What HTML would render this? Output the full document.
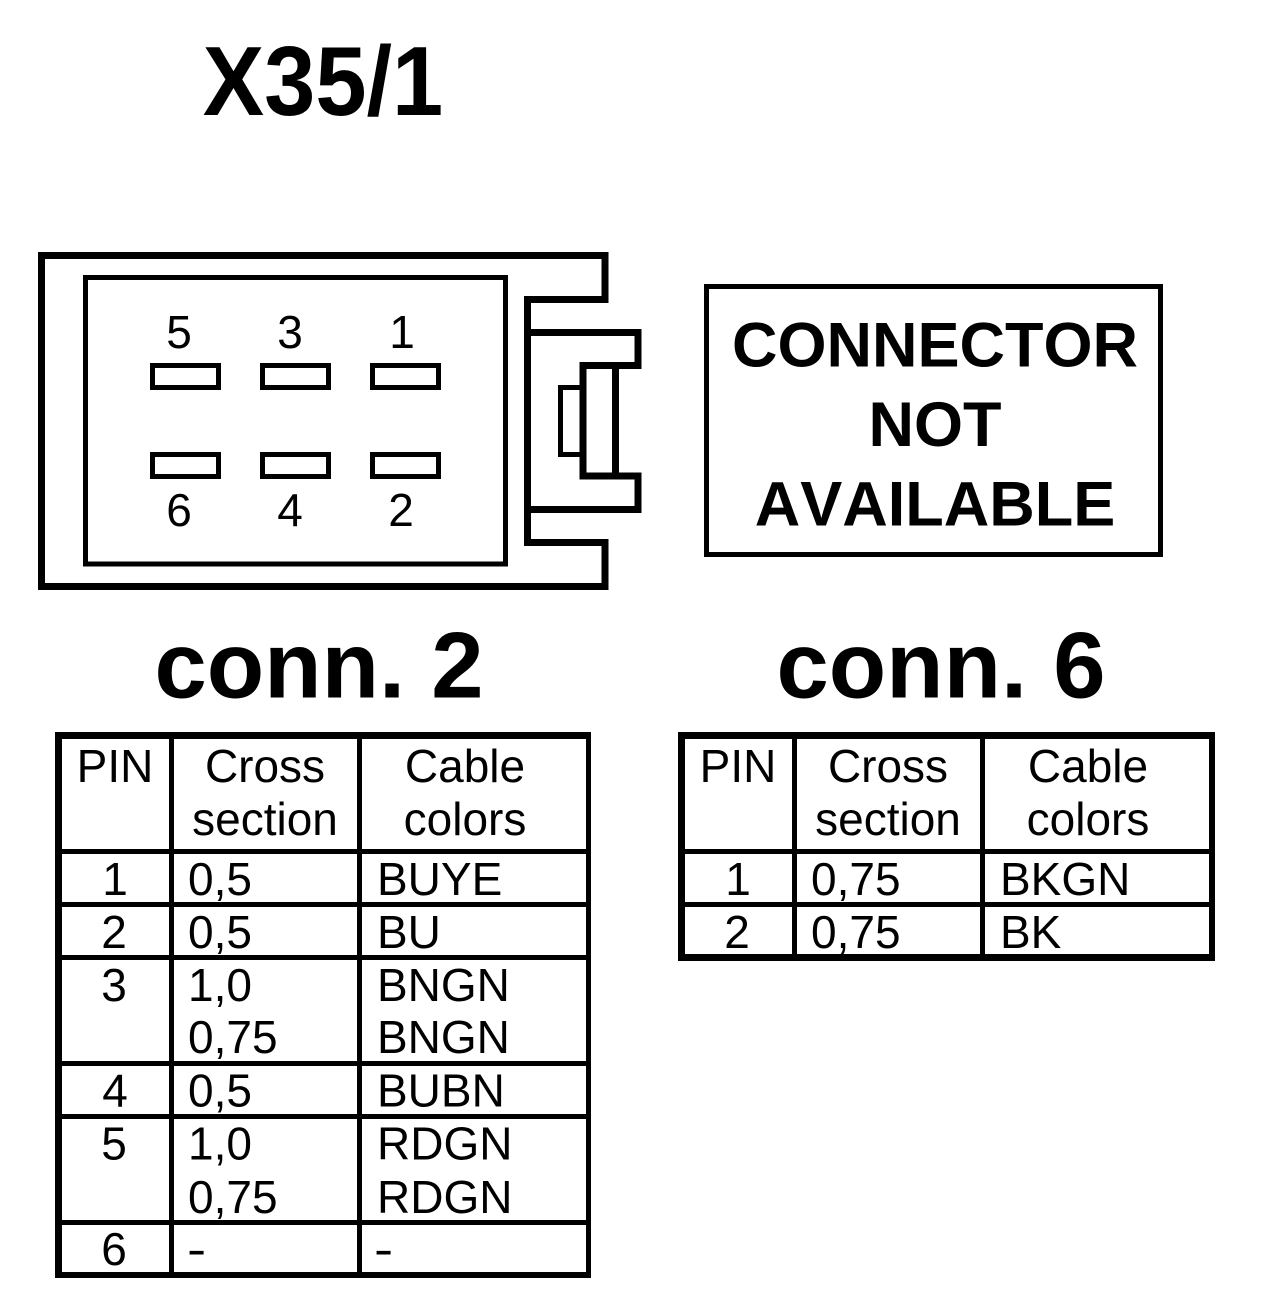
<!DOCTYPE html>
<html><head><meta charset="utf-8"><style>html,body{margin:0;padding:0;background:#fff}svg{display:block}
text{font-family:"Liberation Sans",Arial,sans-serif;fill:#000;font-kerning:none}
.t{font-size:46px}.b{font-weight:bold}.m{text-anchor:middle}</style></head><body>
<svg width="1264" height="1312" viewBox="0 0 1264 1312" xmlns="http://www.w3.org/2000/svg">
<rect width="1264" height="1312" fill="#fff"/>
<text class="b m" transform="translate(323,115) scale(1,1.07)" font-size="92">X35/1</text>
<g fill="none" stroke="#000" shape-rendering="crispEdges">
<path stroke-width="7" d="M41.5 255.5H605V299.5H527.5V542.5H605V586.5H41.5Z"/>
<rect stroke-width="5" x="85.5" y="277.5" width="420" height="286.5"/>
<path stroke-width="7" d="M527.5 332.5H638V365.5H583V476H638V509.5H527.5"/>
<path stroke-width="7" d="M615.5 365.5V476"/>
<path stroke-width="5" d="M583 387.5H560.5V454.5H583"/>
<g stroke-width="5">
<rect x="152.5" y="365.5" width="66" height="22"/><rect x="262.5" y="365.5" width="66" height="22"/><rect x="372.5" y="365.5" width="66" height="22"/>
<rect x="152.5" y="454.5" width="66" height="22"/><rect x="262.5" y="454.5" width="66" height="22"/><rect x="372.5" y="454.5" width="66" height="22"/>
</g>
<rect stroke-width="5" x="706.5" y="286.5" width="454" height="268"/>
</g>
<g fill="#000" shape-rendering="crispEdges">
<!-- table 1 -->
<rect x="55" y="732" width="536" height="7"/>
<rect x="55" y="1272" width="536" height="6"/>
<rect x="55" y="732" width="7" height="546"/>
<rect x="586" y="732" width="5" height="546"/>
<rect x="169" y="732" width="5" height="546"/>
<rect x="357" y="732" width="5" height="546"/>
<rect x="55" y="849" width="536" height="5"/>
<rect x="55" y="902" width="536" height="5"/>
<rect x="55" y="955" width="536" height="5"/>
<rect x="55" y="1061" width="536" height="5"/>
<rect x="55" y="1114" width="536" height="5"/>
<rect x="55" y="1220" width="536" height="5"/>
<!-- table 2 -->
<rect x="678" y="732" width="537" height="7"/>
<rect x="678" y="954" width="537" height="7"/>
<rect x="678" y="732" width="7" height="229"/>
<rect x="1209" y="732" width="6" height="229"/>
<rect x="792" y="732" width="5" height="229"/>
<rect x="980" y="732" width="5" height="229"/>
<rect x="678" y="849" width="537" height="5"/>
<rect x="678" y="902" width="537" height="5"/>
</g>
<text class="t m" x="179" y="348">5</text><text class="t m" x="290" y="348">3</text><text class="t m" x="402" y="348">1</text>
<text class="t m" x="179" y="526">6</text><text class="t m" x="290" y="526">4</text><text class="t m" x="401" y="526">2</text>
<text class="b m" x="935" y="366.5" font-size="63">CONNECTOR</text>
<text class="b m" x="935" y="446" font-size="63">NOT</text>
<text class="b m" x="935" y="525.5" font-size="63">AVAILABLE</text>
<text class="b m" x="319" y="697.5" font-size="94">conn. 2</text>
<text class="b m" x="941" y="697.5" font-size="94">conn. 6</text>
<!-- table 1 text -->
<text class="t m" x="115" y="782">PIN</text>
<text class="t m" x="265" y="782">Cross</text><text class="t m" x="265" y="835">section</text>
<text class="t m" x="465" y="782">Cable</text><text class="t m" x="465" y="835">colors</text>
<text class="t m" x="115" y="895">1</text><text class="t" x="188" y="895">0,5</text><text class="t" x="377" y="895">BUYE</text>
<text class="t m" x="114" y="948">2</text><text class="t" x="188" y="948">0,5</text><text class="t" x="377" y="948">BU</text>
<text class="t m" x="114" y="1001">3</text><text class="t" x="188" y="1001">1,0</text><text class="t" x="377" y="1001">BNGN</text>
<text class="t" x="188" y="1053">0,75</text><text class="t" x="377" y="1053">BNGN</text>
<text class="t m" x="115" y="1106.5">4</text><text class="t" x="188" y="1106.5">0,5</text><text class="t" x="377" y="1106.5">BUBN</text>
<text class="t m" x="114" y="1159.5">5</text><text class="t" x="188" y="1159.5">1,0</text><text class="t" x="377" y="1159.5">RDGN</text>
<text class="t" x="188" y="1213">0,75</text><text class="t" x="377" y="1213">RDGN</text>
<text class="t m" x="114" y="1265">6</text><text class="t" transform="translate(187,1265) scale(1.25,1)">-</text><text class="t" transform="translate(374,1265) scale(1.25,1)">-</text>
<!-- table 2 text -->
<text class="t m" x="738" y="782">PIN</text>
<text class="t m" x="888" y="782">Cross</text><text class="t m" x="888" y="835">section</text>
<text class="t m" x="1088" y="782">Cable</text><text class="t m" x="1088" y="835">colors</text>
<text class="t m" x="738" y="895">1</text><text class="t" x="811" y="895">0,75</text><text class="t" x="1000" y="895">BKGN</text>
<text class="t m" x="737" y="948">2</text><text class="t" x="811" y="948">0,75</text><text class="t" x="1000" y="948">BK</text>
</svg>
</body></html>
